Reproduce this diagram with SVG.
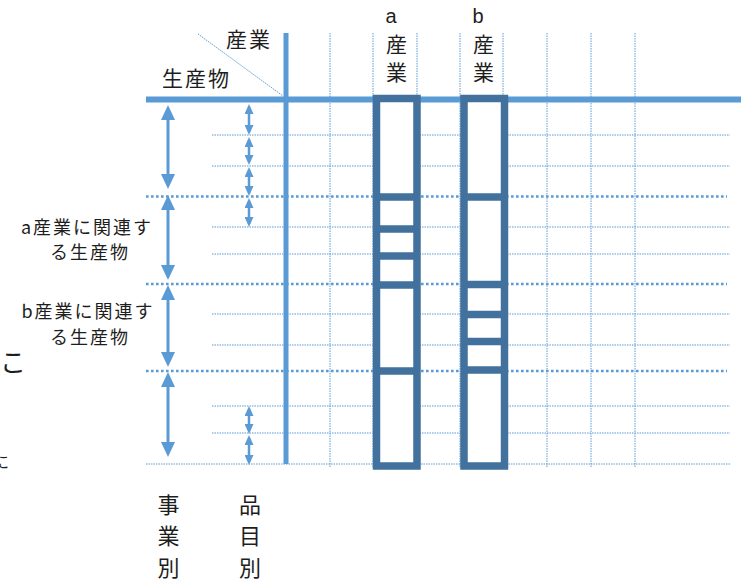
<svg xmlns="http://www.w3.org/2000/svg" width="741" height="583" viewBox="0 0 741 583">
<style>
.thin{stroke:#5B9BD5;stroke-width:1;stroke-dasharray:1.5 1;fill:none}
.thick{stroke:#5B9BD5;stroke-width:2.6;stroke-dasharray:2.6 2.4;fill:none}
.axis{stroke:#5B9BD5;fill:none}
.box{fill:#fff;stroke:#41719C;stroke-width:7.5}
.bar{stroke:#41719C;stroke-width:7.5}
.big{stroke:#5B9BD5;stroke-width:3;marker-start:url(#ab);marker-end:url(#ab)}
.sm{stroke:#5B9BD5;stroke-width:2.5;marker-start:url(#as);marker-end:url(#as)}
text{font-family:"Noto Sans CJK JP","Noto Sans",sans-serif;fill:#1e1e1e}
.t21{font-size:21px;letter-spacing:2px}
.t18{font-size:18px;letter-spacing:2px;text-anchor:middle}
.col{font-size:21px;text-anchor:middle}
.let{font-family:"Liberation Sans",Arial,sans-serif;font-size:20px;text-anchor:middle}
.bot{font-size:22px;text-anchor:middle}
</style>
<defs>
<marker id="ab" markerUnits="userSpaceOnUse" markerWidth="15" markerHeight="14" viewBox="0 0 15 14" refX="11" refY="7" orient="auto-start-reverse"><path d="M0,0 L15,7 L0,14 z" fill="#5B9BD5"/></marker>
<marker id="as" markerUnits="userSpaceOnUse" markerWidth="10" markerHeight="9" viewBox="0 0 10 9" refX="7" refY="4.5" orient="auto-start-reverse"><path d="M0,0 L10,4.5 L0,9 z" fill="#5B9BD5"/></marker>
</defs>
<g id="grid">
<line class="thin" x1="330" y1="33" x2="330" y2="468"/>
<line class="thin" x1="373" y1="33" x2="373" y2="468"/>
<line class="thin" x1="417" y1="33" x2="417" y2="468"/>
<line class="thin" x1="460" y1="33" x2="460" y2="468"/>
<line class="thin" x1="503" y1="33" x2="503" y2="468"/>
<line class="thin" x1="547" y1="33" x2="547" y2="468"/>
<line class="thin" x1="591" y1="33" x2="591" y2="468"/>
<line class="thin" x1="635" y1="33" x2="635" y2="468"/>
<line class="thin" x1="212" y1="135" x2="730" y2="135"/>
<line class="thin" x1="212" y1="166" x2="730" y2="166"/>
<line class="thin" x1="212" y1="227" x2="730" y2="227"/>
<line class="thin" x1="212" y1="254" x2="730" y2="254"/>
<line class="thin" x1="212" y1="314" x2="730" y2="314"/>
<line class="thin" x1="212" y1="345" x2="730" y2="345"/>
<line class="thin" x1="212" y1="406" x2="730" y2="406"/>
<line class="thin" x1="212" y1="433" x2="730" y2="433"/>
<line class="thin" x1="146" y1="464" x2="730" y2="464"/>
<line class="thick" x1="146" y1="196.5" x2="727" y2="196.5"/>
<line class="thick" x1="146" y1="284" x2="727" y2="284"/>
<line class="thick" x1="146" y1="371" x2="727" y2="371"/>
<line class="axis" x1="146" y1="99.5" x2="741" y2="99.5" stroke-width="6"/>
<line class="axis" x1="286" y1="33" x2="286" y2="464" stroke-width="5"/>
<line x1="198" y1="34" x2="283" y2="96" stroke="#5B9BD5" stroke-width="1" stroke-dasharray="1.5 1"/>
</g>
<g id="industry-a">
<rect class="box" x="376.5" y="98.5" width="40.5" height="367.5"/>
<line class="bar" x1="376.5" y1="197" x2="417" y2="197"/>
<line class="bar" x1="376.5" y1="229" x2="417" y2="229"/>
<line class="bar" x1="376.5" y1="256" x2="417" y2="256"/>
<line class="bar" x1="376.5" y1="285" x2="417" y2="285"/>
<line class="bar" x1="376.5" y1="371" x2="417" y2="371"/>
</g>
<g id="industry-b">
<rect class="box" x="464" y="98.5" width="40.5" height="367.5"/>
<line class="bar" x1="464" y1="197" x2="504.5" y2="197"/>
<line class="bar" x1="464" y1="284.5" x2="504.5" y2="284.5"/>
<line class="bar" x1="464" y1="314.5" x2="504.5" y2="314.5"/>
<line class="bar" x1="464" y1="341.5" x2="504.5" y2="341.5"/>
<line class="bar" x1="464" y1="370" x2="504.5" y2="370"/>
</g>
<g id="connectors">
<line class="big" x1="168" y1="109" x2="168" y2="185"/>
<line class="big" x1="168" y1="199" x2="168" y2="276"/>
<line class="big" x1="168" y1="289" x2="168" y2="363"/>
<line class="big" x1="168" y1="376" x2="168" y2="453"/>
<line class="sm" x1="249" y1="107" x2="249" y2="132"/>
<line class="sm" x1="249" y1="140" x2="249" y2="162"/>
<line class="sm" x1="249" y1="170" x2="249" y2="193"/>
<line class="sm" x1="249" y1="201" x2="249" y2="224"/>
<line class="sm" x1="249" y1="409" x2="249" y2="431"/>
<line class="sm" x1="249" y1="438" x2="249" y2="462"/>
</g>
<g id="labels">
<text class="t21" x="226" y="47">産業</text>
<text class="t21" x="162" y="86">生産物</text>
<text class="let" x="391" y="23">a</text>
<text class="col" x="396.5" y="52">産</text>
<text class="col" x="396.5" y="80">業</text>
<text class="let" x="478" y="23">b</text>
<text class="col" x="483.5" y="52">産</text>
<text class="col" x="483.5" y="80">業</text>
<text class="t18" x="87" y="234">a産業に関連す</text>
<text class="t18" x="90" y="259">る生産物</text>
<text class="t18" x="88" y="318">b産業に関連す</text>
<text class="t18" x="90" y="344">る生産物</text>
<text x="0" y="372" font-size="26">こ</text>
<text x="-7" y="468" font-size="16">に</text>
<text class="bot" x="168.5" y="513">事</text>
<text class="bot" x="168.5" y="544">業</text>
<text class="bot" x="168.5" y="576">別</text>
<text class="bot" x="250" y="513">品</text>
<text class="bot" x="250" y="544">目</text>
<text class="bot" x="250" y="576">別</text>
</g>
</svg>
